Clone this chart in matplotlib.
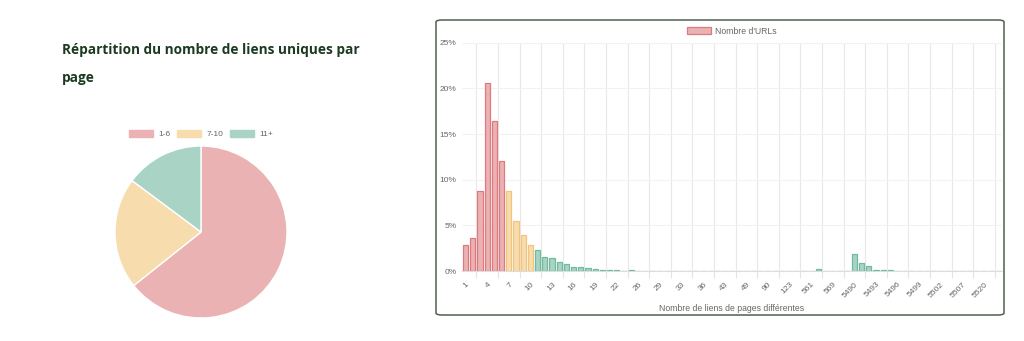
import matplotlib.pyplot as plt
from matplotlib.patches import FancyBboxPatch, Patch

# Pie: share of pages per bucket of unique links
pie_labels = ['1-6', '7-10', '11+']
pie_values = [64.3, 20.9, 14.8]

# Bar chart: share of URLs (%) for each number of distinct linked pages
url_share = [
    2.85, 3.6, 8.75, 20.6, 16.4, 12.0,          # 1-6
    8.75, 5.5, 3.9, 2.84,                       # 7-10
    2.3, 1.53, 1.39, 0.95, 0.73, 0.47, 0.40, 0.36, 0.22, 0.15,
    0.15, 0.08, 0.02, 0.08, 0.02, 0.02, 0.02, 0.02, 0.02, 0.02,
    0.02, 0.02, 0.02, 0.02, 0.02, 0.02, 0.02, 0.02, 0.02, 0.02,
    0.02, 0.02, 0.02, 0.02, 0.02, 0.02, 0.02, 0.02, 0.02, 0.17,
    0.02, 0.02, 0.02, 0.02, 1.83, 0.92, 0.50, 0.10, 0.06, 0.08,
    0.02, 0.02, 0.02, 0.02, 0.02, 0.02, 0.02, 0.02, 0.02, 0.02,
    0.02, 0.02, 0.02, 0.02, 0.02,
]
tick_labels = ['1', '4', '7', '10', '13', '16', '19', '22', '26', '29', '33', '36',
               '43', '49', '90', '123', '561', '569', '5490', '5493', '5496',
               '5499', '5502', '5507', '5520']

pink, pink_edge = '#ebb2b4', '#e0797e'
yellow, yellow_edge = '#f7dcae', '#f3c57c'
green, green_edge = '#a9d4c5', '#6fbb9e'
grey_text = '#666666'

plt.rcParams['font.family'] = ['Liberation Sans', 'DejaVu Sans']

fig = plt.figure(figsize=(10.24, 3.41), dpi=100)
W, H = 1024, 341

def fx(px):
    return px / W

def fy(py):
    return 1 - py / H

# Title
title_kw = dict(fontsize=9.8, fontweight='bold', family='Open Sans', color='#1b3a21',
                va='center')
fig.text(fx(62), fy(50), 'Répartition du nombre de liens uniques par', **title_kw)
fig.text(fx(62), fy(78), 'page', **title_kw)

# Pie chart
r = 86
ax_pie = fig.add_axes([fx(201 - r), fy(232 + r), 2 * r / W, 2 * r / H])
ax_pie.pie(pie_values, colors=[pink, yellow, green], startangle=90, counterclock=False,
           wedgeprops=dict(edgecolor='white', linewidth=1))
ax_pie.set_xlim(-1, 1)
ax_pie.set_ylim(-1, 1)
ax_pie.axis('off')
pie_handles = [Patch(facecolor=c, edgecolor=c) for c in (pink, yellow, green)]
fig.legend(pie_handles, pie_labels, loc='center', bbox_to_anchor=(fx(201), fy(134)),
           ncol=3, frameon=False, fontsize=6, labelcolor=grey_text,
           handlelength=2.9, handleheight=0.9, handletextpad=0.6, columnspacing=0.8)

# Panel border around bar chart
panel = FancyBboxPatch((fx(436), fy(315)), fx(1004) - fx(436), fy(20) - fy(315),
                       boxstyle='round,pad=0,rounding_size=0.006',
                       transform=fig.transFigure, facecolor='none',
                       edgecolor='#4e5f50', linewidth=1.1)
fig.patches.append(panel)

# Bar chart
ax = fig.add_axes([fx(462), fy(271), fx(1002) - fx(462), fy(42.7) - fy(271)])
n = len(url_share)
xs = list(range(n))
face = [pink] * 6 + [yellow] * 4 + [green] * (n - 10)
edge = [pink_edge] * 6 + [yellow_edge] * 4 + [green_edge] * (n - 10)
ax.bar(xs, url_share, width=0.72, color=face, edgecolor=edge, linewidth=0.9, zorder=3)

ax.set_xlim(-0.5, n - 0.5)
ax.set_ylim(0, 25)
ax.set_yticks([0, 5, 10, 15, 20, 25])
ax.set_yticklabels([f'{v}%' for v in [0, 5, 10, 15, 20, 25]])
ax.set_xticks(list(range(0, 3 * len(tick_labels), 3)))
ax.set_xticklabels(tick_labels, rotation=45, ha='right', rotation_mode='anchor')
ax.set_xticks([1.5 + 3 * k for k in range(25)], minor=True)
ax.tick_params(axis='x', which='major', length=0, pad=7, labelsize=6, labelcolor=grey_text)
ax.tick_params(axis='x', which='minor', length=5, color='#e4e4e4', width=0.8)
ax.tick_params(axis='y', length=0, pad=4, labelsize=6, labelcolor=grey_text)
ax.grid(axis='x', which='minor', color='#e8e8e8', linewidth=0.8, zorder=0)
ax.grid(axis='y', which='major', color='#f2f2f2', linewidth=0.8, zorder=0)
for side in ['top', 'right', 'left']:
    ax.spines[side].set_visible(False)
ax.spines['bottom'].set_color('#dddddd')
ax.spines['bottom'].set_linewidth(0.8)

ax.set_xlabel('Nombre de liens de pages différentes', fontsize=6.2, color=grey_text)
ax.xaxis.set_label_coords(0.5, -0.145)

ax.legend([Patch(facecolor=pink, edgecolor=pink_edge, linewidth=0.9)], ["Nombre d'URLs"],
          loc='center', bbox_to_anchor=(0.5, 1.05), frameon=False, fontsize=6.2,
          labelcolor=grey_text, handlelength=2.8, handleheight=0.85, handletextpad=0.5)

fig.savefig('out.png', dpi=100)
